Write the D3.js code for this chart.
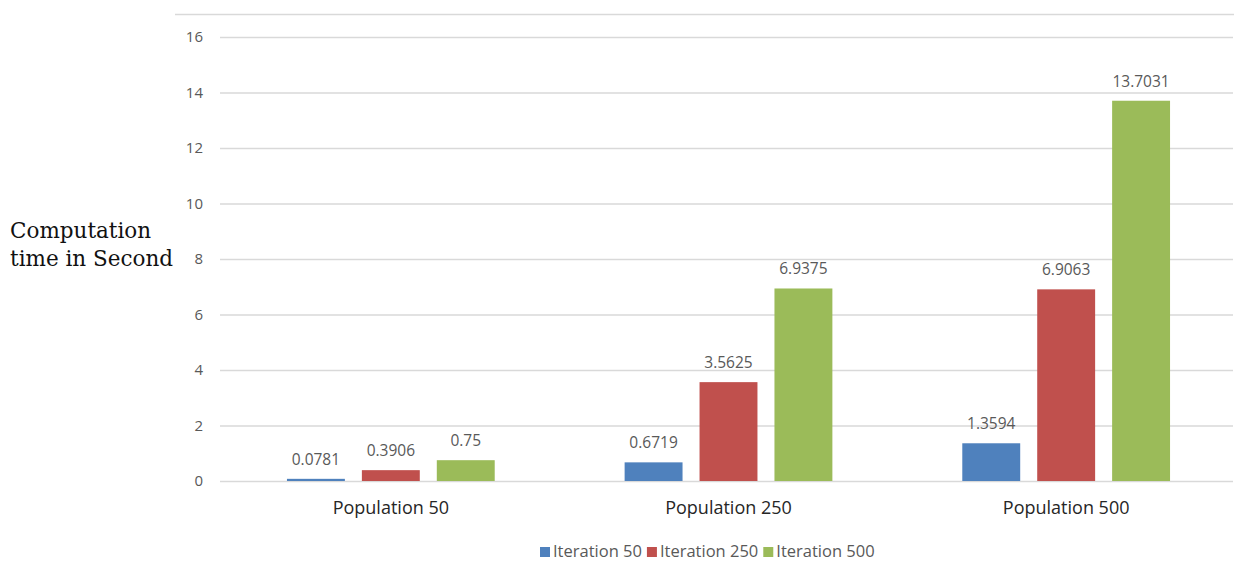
<!DOCTYPE html>
<html>
<head>
<meta charset="utf-8">
<script src="https://cdn.jsdelivr.net/npm/d3@7"></script>
<style>
  html, body { margin: 0; padding: 0; background: #fff; }
  svg { display: block; }
</style>
</head>
<body>
<svg id="chart" width="1234" height="563"></svg>
<script>
// Computation time by population size and iteration count
const categories = ["Population 50", "Population 250", "Population 500"];
const seriesNames = ["Iteration 50", "Iteration 250", "Iteration 500"];
const iteration50 = [0.0781, 0.6719, 1.3594];
const iteration250 = [0.3906, 3.5625, 6.9063];
const iteration500 = [0.75, 6.9375, 13.7031];
const yTicks = [0, 2, 4, 6, 8, 10, 12, 14, 16];
const colors = ["#4f81bd", "#c0504d", "#9bbb59"];

const seriesValues = [iteration50, iteration250, iteration500];

const svg = d3.select("#chart");
const W = 1234;
const plotLeft = 222, plotRight = 1235, plotTop = 37, plotBottom = 481;

const x0 = d3.scaleBand().domain(categories).range([plotLeft, plotRight]).paddingInner(0).paddingOuter(0);
const x1 = d3.scaleBand().domain(seriesNames).range([0, x0.bandwidth()]).paddingInner(0.227).paddingOuter(0.867);
const y = d3.scaleLinear().domain([0, 16]).range([plotBottom, plotTop]);

// chart frame top edge
svg.append("line")
  .attr("x1", 175).attr("x2", W).attr("y1", 14.5).attr("y2", 14.5)
  .attr("stroke", "#d9d9d9").attr("stroke-width", 1.5);

// gridlines and value axis
const yAxis = d3.axisLeft(y).tickValues(yTicks).tickSize(-(plotRight - plotLeft)).tickPadding(17).tickFormat(d3.format("d"));
const gy = svg.append("g").attr("transform", `translate(${plotLeft - 2},0)`).call(yAxis);
gy.select(".domain").remove();
gy.selectAll(".tick line").attr("stroke", "#d9d9d9").attr("stroke-width", 1.3);
gy.selectAll(".tick text")
  .attr("fill", "#595959")
  .style("font-family", "'Open Sans', sans-serif")
  .style("font-size", "15px");

// bars
const rowsFor = (c, i) => seriesNames.map((s, j) => ({ s, v: seriesValues[j][i], j }));
const groups = svg.append("g").selectAll("g")
  .data(categories)
  .join("g")
  .attr("transform", d => `translate(${x0(d)},0)`);

groups.selectAll("rect")
  .data(rowsFor)
  .join("rect")
  .attr("x", d => x1(d.s))
  .attr("width", x1.bandwidth())
  .attr("y", d => y(d.v))
  .attr("height", d => y(0) - y(d.v))
  .attr("fill", d => colors[d.j]);

groups.selectAll("text.val")
  .data(rowsFor)
  .join("text")
  .attr("class", "val")
  .attr("x", d => x1(d.s) + x1.bandwidth() / 2)
  .attr("y", d => y(d.v) - 14)
  .attr("text-anchor", "middle")
  .attr("fill", "#595959")
  .style("font-family", "'Open Sans', sans-serif")
  .style("font-size", "15.5px")
  .text(d => d.v);

// category axis labels
const gx = svg.append("g").attr("transform", `translate(0,${plotBottom})`)
  .call(d3.axisBottom(x0).tickSize(0).tickPadding(20));
gx.select(".domain").remove();
gx.selectAll(".tick text")
  .attr("fill", "#262626")
  .style("font-family", "'Open Sans', sans-serif")
  .style("font-size", "18px");

// y axis title
const title = svg.append("text")
  .attr("fill", "#111")
  .style("font-family", "'DejaVu Serif', serif")
  .style("font-size", "21.5px");
title.append("tspan").attr("x", 10).attr("y", 238).text("Computation");
title.append("tspan").attr("x", 10).attr("y", 266).text("time in Second");

// legend
const legend = svg.append("g").attr("transform", "translate(0,557)");
let lx = 540;
seriesNames.forEach((name, j) => {
  const item = legend.append("g").attr("transform", `translate(${lx},0)`);
  item.append("rect").attr("x", 0).attr("y", -10).attr("width", 10).attr("height", 10).attr("fill", colors[j]);
  const t = item.append("text").attr("x", 13).attr("y", 0)
    .attr("fill", "#595959")
    .style("font-family", "'Open Sans', sans-serif")
    .style("font-size", "16.5px")
    .text(name);
  lx += 13 + t.node().getComputedTextLength() + 5;
});
</script>
</body>
</html>
